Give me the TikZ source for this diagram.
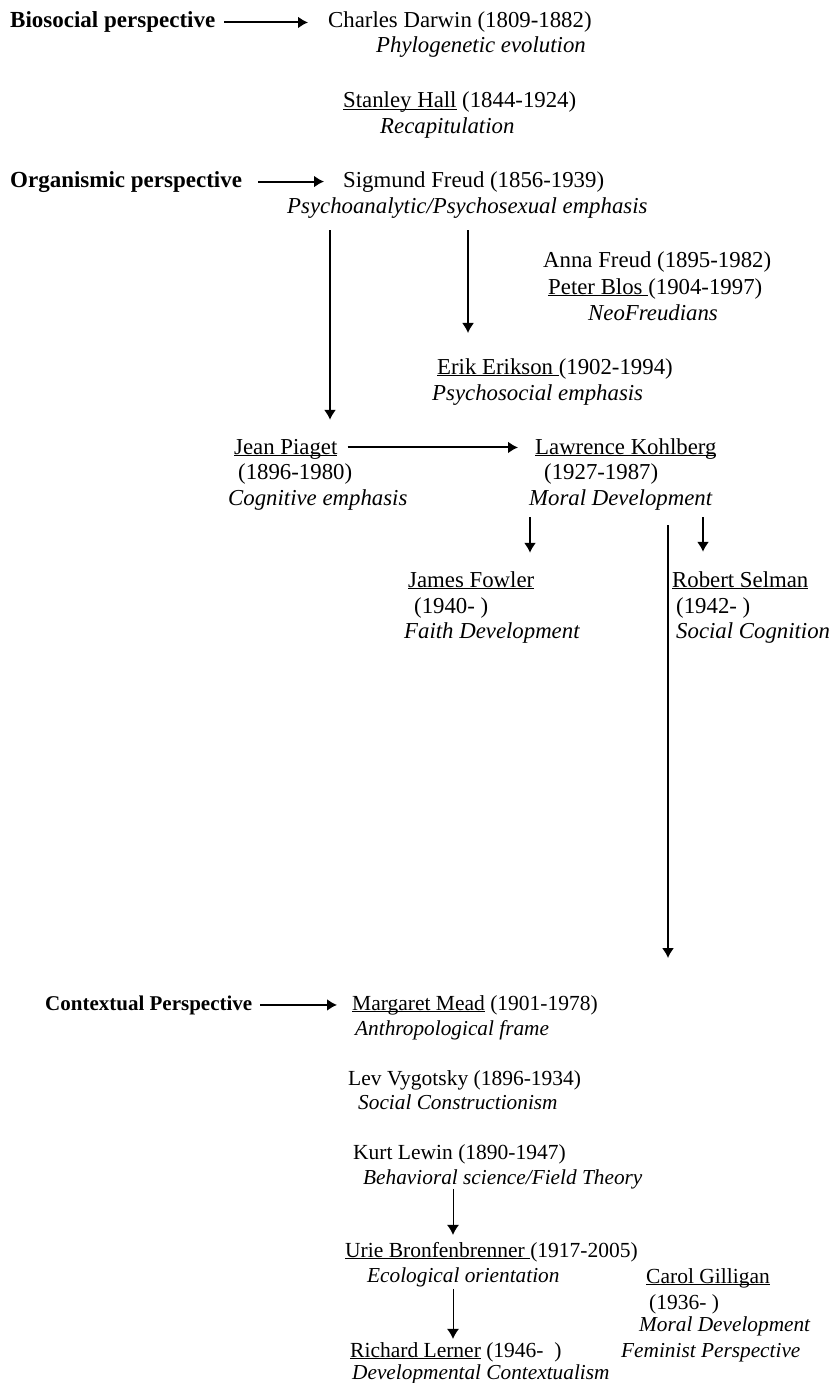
\documentclass[tikz,border=0pt]{standalone}
\usepackage{fontspec}
\setmainfont{Liberation Serif}
\usetikzlibrary{arrows.meta}
\newcommand{\uname}[1]{\underline{\vphantom{A}\smash{#1}}}

\begin{document}
\begin{tikzpicture}[x=1pt,y=-1pt,
  every node/.style={anchor=base west,inner sep=0pt,font=\fontsize{22.8}{26}\selectfont},
  persp/.style={font=\fontsize{23}{26}\selectfont\bfseries},
  descr/.style={font=\fontsize{22.8}{26}\selectfont\itshape},
  lentry/.style={font=\fontsize{21.5}{25}\selectfont},
  ldescr/.style={font=\fontsize{21.3}{25}\selectfont\itshape},
  arr/.style={line width=1.5pt,-{Latex[length=10pt,width=12pt]}}]
\useasboundingbox (0,0) rectangle (835,1383);

%% biosocial
\node[persp] (bio) at (10,28) {Biosocial perspective};
\node (darwin) at (328,28) {Charles Darwin (1809-1882)};
\node[descr] (phylo) at (376,53) {Phylogenetic evolution};
\node (hall) at (343,108) {\uname{Stanley Hall} (1844-1924)};
\node[descr] (recap) at (380,134) {Recapitulation};

%% organismic
\node[persp] (org) at (10,187) {Organismic perspective};
\node (freud) at (343,187) {Sigmund Freud (1856-1939)};
\node[descr] (psy) at (287,214) {Psychoanalytic/Psychosexual emphasis};
\node (anna) at (543,267) {Anna Freud (1895-1982)};
\node (blos) at (548,294) {\uname{Peter Blos\ }(1904-1997)};
\node[descr] (neo) at (588,320) {NeoFreudians};
\node (erikson) at (437,374) {\uname{Erik Erikson\ }(1902-1994)};
\node[descr] (psysoc) at (432,400) {Psychosocial emphasis};
\node (piaget) at (234,454) {\uname{Jean Piaget}};
\node (piadate) at (238,479) {(1896-1980)};
\node[descr] (cogn) at (228,505) {Cognitive emphasis};
\node (kohl) at (535,454) {\uname{Lawrence Kohlberg}};
\node (kohldate) at (544,479) {(1927-1987)};
\node[descr] (moral) at (529,505) {Moral Development};
\node (fowler) at (408,587) {\uname{James Fowler}};
\node (fowdate) at (414,613) {(1940- )};
\node[descr] (faith) at (404,638) {Faith Development};
\node (selman) at (672,587) {\uname{Robert Selman}};
\node (seldate) at (676,613) {(1942- )};
\node[descr] (social) at (676,638) {Social Cognition};
\coordinate (kend) at (668,958);

%% contextual
\node[persp,font=\fontsize{21}{25}\selectfont\bfseries] (context) at (45,1010) {Contextual Perspective};
\node[lentry] (mead) at (352,1010) {\uname{Margaret Mead} (1901-1978)};
\node[ldescr] (anthro) at (355,1035) {Anthropological frame};
\node[lentry] (vyg) at (348,1085) {Lev Vygotsky (1896-1934)};
\node[ldescr] (socon) at (358,1109) {Social Constructionism};
\node[lentry] (lewin) at (353,1159) {Kurt Lewin (1890-1947)};
\node[ldescr] (behav) at (363,1184) {Behavioral science/Field Theory};
\node[lentry] (bronf) at (345,1257) {\uname{Urie Bronfenbrenner\ }(1917-2005)};
\node[ldescr] (eco) at (367,1282) {Ecological orientation};
\node[lentry] (lerner) at (350,1357) {\uname{Richard Lerner} (1946-\ \ )};
\node[ldescr] (devcon) at (352,1379) {Developmental Contextualism};
\node[lentry] (gilligan) at (646,1283) {\uname{Carol Gilligan}};
\node[lentry] (gildate) at (649,1309) {(1936- )};
\node[ldescr] (gilmoral) at (639,1331) {Moral Development};
\node[ldescr] (feminist) at (621,1357) {Feminist Perspective};

%% arrows
\draw[arr,line width=2pt,shorten <=9pt,shorten >=20pt] (bio.east) -- (bio.east -| darwin.west);
\draw[arr,line width=2pt,shorten <=16pt,shorten >=19pt] (org.east) -- (org.east -| freud.west);
\draw[arr,line width=2pt,shorten <=8pt,shorten >=15pt] (context.east) -- (context.east -| mead.west);
\draw[arr,shorten <=11pt,shorten >=19pt] (psy.south -| 330,0) -- (piaget.north -| 330,0);
\draw[arr,shorten <=11pt,shorten >=25pt] (psy.south -| 468,0) -- (erikson.north -| 468,0);
\draw[arr,line width=2pt,shorten <=10pt,shorten >=17pt] (piaget.east) -- (piaget.east -| kohl.west);
\draw[arr,shorten <=7pt,shorten >=19pt] (moral.south -| 530,0) -- (fowler.north -| 530,0);
\draw[arr,shorten <=7pt,shorten >=20pt] (moral.south -| 703,0) -- (selman.north -| 703,0);
\draw[arr,shorten <=15pt] (moral.south -| kend) -- (kend);
\draw[arr,line width=1pt,shorten >=7pt] (behav.south -| 453,0) -- (bronf.north -| 453,0);
\draw[arr,line width=1pt,shorten <=2pt,shorten >=3pt] (eco.south -| 453,0) -- (lerner.north -| 453,0);
\end{tikzpicture}
\end{document}
